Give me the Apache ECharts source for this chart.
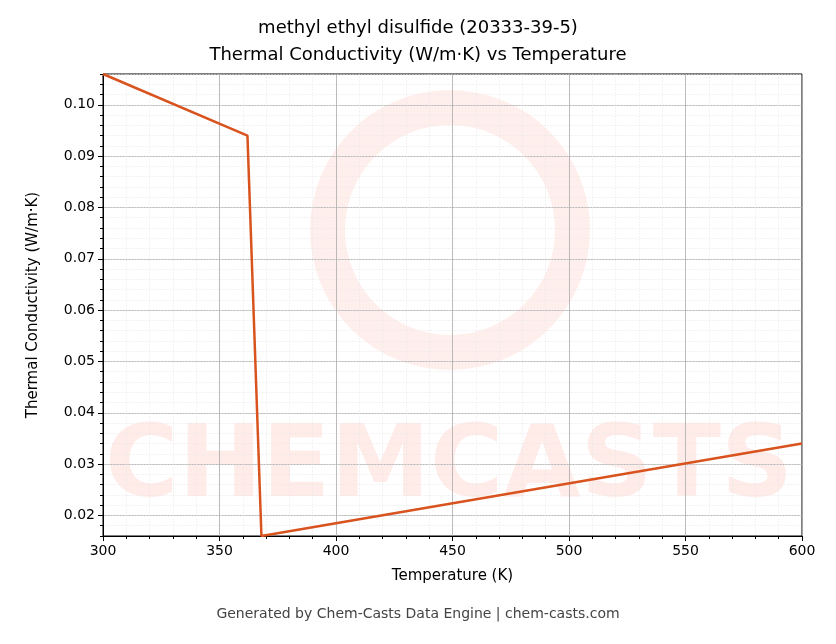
<!DOCTYPE html>
<html><head><meta charset="utf-8">
<script src="https://cdn.jsdelivr.net/npm/echarts@6/dist/echarts.min.js"></script>
<style>html,body{margin:0;padding:0;background:#fff}#c{width:836px;height:644px}</style>
</head><body><div id="c"></div>
<script>
const temps = [300, 362, 368, 600];
const conductivity = [0.106, 0.094, 0.016, 0.034];
const yTicks = [0.02, 0.03, 0.04, 0.05, 0.06, 0.07, 0.08, 0.09, 0.10];
const yMinor = [];
for (let i = 0; i <= 45; i++) yMinor.push(+(0.016 + i * 0.002).toFixed(3));
const titleLines = ['methyl ethyl disulfide (20333-39-5)', 'Thermal Conductivity (W/m·K) vs Temperature'];
const chart = echarts.init(document.getElementById('c'));
const font = 'DejaVu Sans';
chart.setOption({
  backgroundColor: '#fff',
  animation: false,
  title: {text: titleLines.join('\n'), left: 'center', top: 10,
    textStyle: {fontFamily: font, fontSize: 18, fontWeight: 'normal', color: '#000', lineHeight: 27}},
  graphic: [
    {type: 'text', left: 'center', top: 607, style: {text: 'Generated by Chem-Casts Data Engine | chem-casts.com', fontFamily: font, fontSize: 14, fill: '#444'}},
    {type: 'text', left: 105, top: 420, z: 0, style: {text: 'CHEMCASTS', fontFamily: font, fontWeight: 'bold', fontSize: 100, fill: 'rgba(255,120,100,0.15)'}},
    {type: 'ring', shape: {cx: 450, cy: 230, r: 140, r0: 105}, z: 0, style: {fill: 'rgba(255,120,100,0.12)'}}
  ],
  grid: {left: 103, right: 34, top: 74, bottom: 108, show: true, borderColor: '#000', borderWidth: 1, backgroundColor: 'transparent'},
  xAxis: {type: 'value', min: 300, max: 600, interval: 50, name: 'Temperature (K)', nameLocation: 'middle', nameGap: 33,
    nameTextStyle: {fontFamily: font, fontSize: 15, color: '#000'},
    axisLine: {lineStyle: {color: '#000'}}, axisTick: {lineStyle: {color: '#000'}, length: 5},
    minorTick: {show: true, splitNumber: 5, length: 3, lineStyle: {color: '#000'}},
    axisLabel: {fontFamily: font, fontSize: 14, color: '#000'},
    splitLine: {lineStyle: {color: '#aaa', width: 0.8}},
    minorSplitLine: {show: true, lineStyle: {color: '#e6e6e6', width: 0.5, type: 'dashed'}}},
  yAxis: [{type: 'value', min: 0.016, max: 0.106, name: 'Thermal Conductivity (W/m·K)', nameLocation: 'middle', nameGap: 62,
    nameTextStyle: {fontFamily: font, fontSize: 15, color: '#000'},
    axisLine: {show: true, lineStyle: {color: '#000'}},
    axisTick: {show: true, customValues: yTicks, lineStyle: {color: '#000'}, length: 5},
    axisLabel: {fontFamily: font, fontSize: 14, color: '#000', customValues: yTicks, formatter: v => v.toFixed(2)},
    splitLine: {show: true, lineStyle: {color: '#aaa', width: 0.8}}},
   {type: 'value', min: 0.016, max: 0.106, position: 'left', axisLine: {show: false},
    axisTick: {show: true, customValues: yMinor, length: 3, lineStyle: {color: '#000'}},
    axisLabel: {show: false, customValues: yMinor},
    splitLine: {show: true, lineStyle: {color: '#e6e6e6', width: 0.5, type: 'dashed'}}}],
  series: [{type: 'line', data: temps.map((t, i) => [t, conductivity[i]]), showSymbol: false,
    lineStyle: {color: '#d9531e', width: 2.5}, z: 5}]
});
</script></body></html>
